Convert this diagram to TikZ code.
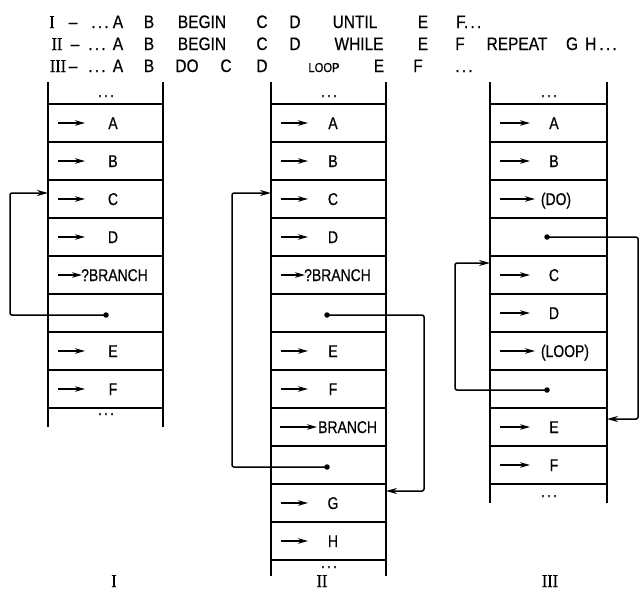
\documentclass[tikz,border=0pt]{standalone}
\usepackage{fontspec}
\setmainfont{Liberation Sans}[FakeStretch=0.82,FakeBold=0.5]
\newfontfamily\hdrfont{Liberation Sans}[FakeStretch=0.86,FakeBold=0.5]
\newfontfamily\numfont{Liberation Serif}[FakeStretch=0.9,FakeBold=0.5]
\usetikzlibrary{arrows.meta}
\newcommand\ddd{.\hspace{2.2pt}.\hspace{2.2pt}.}
\begin{document}
\begin{tikzpicture}[x=1pt,y=-1pt,
  colline/.style={line width=2.2pt},
  rowline/.style={line width=1.8pt},
  inarrow/.style={line width=1.5pt,-{Stealth[length=10pt,width=5.5pt]}},
  loopline/.style={line width=1.5pt,rounded corners=2pt,-{Stealth[length=11pt,width=6pt]}},
  lbl/.style={font=\fontsize{17}{17}\selectfont, inner sep=0pt},
  lblb/.style={lbl, anchor=base},
  hdr/.style={font=\hdrfont\fontsize{18}{18}\selectfont, inner sep=0pt, anchor=base},
  hnum/.style={font=\numfont\fontsize{18}{18}\selectfont, inner sep=0pt, anchor=base},
  dotnode/.style={circle,fill,inner sep=0pt,minimum size=5.5pt}]
\useasboundingbox (0,0) rectangle (641,592);
% ---------- header ----------
% row 1
\node[hnum] (h1n) at (52,28) {I};
\node[hdr] (h1m) at (73,28) {–};
\node[hdr] (h1d) at (100,28) {\ddd};
\node[hdr] (h1a) at (118,28) {A};
\node[hdr] (h1b) at (149,28) {B};
\node[hdr] (h1c) at (202,28) {BEGIN};
\node[hdr] (h1e) at (262,28) {C};
\node[hdr] (h1f) at (295,28) {D};
\node[hdr] (h1g) at (355,28) {UNTIL};
\node[hdr] (h1h) at (423,28) {E};
\node[hdr,anchor=base west] (h1i) at (456,28) {F\ddd};
% row 2
\node[hnum] (h2n) at (57,50) {II};
\node[hdr] (h2m) at (75,50) {–};
\node[hdr] (h2d) at (97,50) {\ddd};
\node[hdr] (h2a) at (118,50) {A};
\node[hdr] (h2b) at (149,50) {B};
\node[hdr] (h2c) at (202,50) {BEGIN};
\node[hdr] (h2e) at (262,50) {C};
\node[hdr] (h2f) at (295,50) {D};
\node[hdr] (h2g) at (359,50) {WHILE};
\node[hdr] (h2h) at (423,50) {E};
\node[hdr] (h2i) at (460,50) {F};
\node[hdr] (h2j) at (517,50) {REPEAT};
\node[hdr] (h2k) at (572,50) {G};
\node[hdr,anchor=base west] (h2l) at (585,50) {H\hspace{3pt}\ddd};
% row 3
\node[hnum] (h3n) at (58,72) {III};
\node[hdr] (h3m) at (73,72) {–};
\node[hdr] (h3d) at (97,72) {\ddd};
\node[hdr] (h3a) at (118,72) {A};
\node[hdr] (h3b) at (149,72) {B};
\node[hdr] (h3c) at (187,72) {DO};
\node[hdr] (h3e) at (226,72) {C};
\node[hdr] (h3f) at (262,72) {D};
\node[hdr,font=\hdrfont\fontsize{13}{13}\selectfont] (h3g) at (324,72) {LOOP};
\node[hdr] (h3h) at (379,72) {E};
\node[hdr] (h3i) at (418,72) {F};
\node[hdr] (h3j) at (464,72) {\ddd};
% ---------- column I ----------
\draw[colline] (48,82) -- (48,427);
\draw[colline] (163,82) -- (163,427);
\foreach \y in {104,142,...,408} \draw[rowline] (48,\y) -- (163,\y);
\node[lblb] (Itop) at (106,97) {\ddd};
\node[lblb] (Ibot) at (106,415) {\ddd};
\foreach \k/\t in {0/A,1/B,2/C,3/D,6/E,7/F}{
  \node[lblb] (I\t) at (113,{129+38*\k}) {\t};
  \draw[inarrow] (58,{123+38*\k}) -- (85,{123+38*\k});
}
\node[lblb,anchor=base west] (Iq) at (81,281) {?BRANCH};
\draw[inarrow] (58,275) -- (82,275);
\node[dotnode] (Idot) at (106,315) {};
\coordinate (Iin) at (48,193);
\draw[loopline] (Idot.center) -- (10,315) |- (Iin);
% ---------- column II ----------
\draw[colline] (271,82) -- (271,576);
\draw[colline] (386,82) -- (386,576);
\foreach \y in {104,142,...,560} \draw[rowline] (271,\y) -- (386,\y);
\node[lblb] (IItop) at (329,97) {\ddd};
\node[lblb] (IIbot) at (329,568) {\ddd};
\foreach \k/\t in {0/A,1/B,2/C,3/D,6/E,7/F,10/G,11/H}{
  \node[lblb] (II\t) at (333,{129+38*\k}) {\t};
  \draw[inarrow] (281,{123+38*\k}) -- (308,{123+38*\k});
}
\node[lblb,anchor=base west] (IIq) at (304,281) {?BRANCH};
\draw[inarrow] (281,275) -- (305,275);
\node[lblb,anchor=base west] (IIbr) at (318,433) {BRANCH};
\draw[inarrow] (280,427) -- (317,427);
\node[dotnode] (IIdotA) at (327,315) {};
\coordinate (IIinA) at (386,491);
\draw[loopline] (IIdotA.center) -- (424,315) |- (IIinA);
\node[dotnode] (IIdotB) at (327,467) {};
\coordinate (IIinB) at (271,193);
\draw[loopline] (IIdotB.center) -- (232,467) |- (IIinB);
% ---------- column III ----------
\draw[colline] (490,82) -- (490,503);
\draw[colline] (607,82) -- (607,503);
\foreach \y in {104,142,...,484} \draw[rowline] (490,\y) -- (607,\y);
\node[lblb] (IIItop) at (549,97) {\ddd};
\node[lblb] (IIIbot) at (549,497) {\ddd};
\foreach \k/\t in {0/A,1/B,4/C,5/D,8/E,9/F}{
  \node[lblb] (III\t) at (554,{129+38*\k}) {\t};
  \draw[inarrow] (500,{123+38*\k}) -- (530,{123+38*\k});
}
\node[lblb] (IIIdo) at (556,205) {(DO)};
\draw[inarrow] (500,199) -- (535,199);
\node[lblb] (IIIloop) at (565,357) {(LOOP)};
\draw[inarrow] (500,351) -- (535,351);
\node[dotnode] (IIIdotA) at (547,237) {};
\coordinate (IIIinA) at (607,419);
\draw[loopline] (IIIdotA.center) -- (638,237) |- (IIIinA);
\node[dotnode] (IIIdotB) at (547,390) {};
\coordinate (IIIinB) at (490,263);
\draw[loopline] (IIIdotB.center) -- (455,390) |- (IIIinB);
% ---------- labels ----------
\node[hnum] (labI) at (114,587) {I};
\node[hnum] (labII) at (322,587) {II};
\node[hnum] (labIII) at (550,587) {III};
\end{tikzpicture}
\end{document}
